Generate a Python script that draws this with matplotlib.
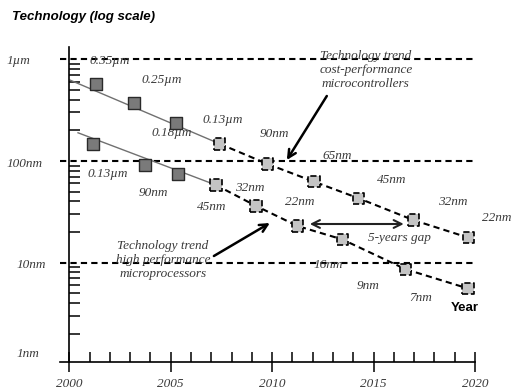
import matplotlib
matplotlib.use("Agg")
import matplotlib.pyplot as plt
from matplotlib.ticker import LogLocator, NullFormatter, MultipleLocator, NullLocator
import numpy as np

# ---------------- data (year, feature size in nm) ----------------
upper_years_solid = [2001.30, 2003.20, 2005.24]
upper_nm_solid = [566, 368, 234]
upper_years_dashed = [2007.42, 2009.77, 2012.07, 2014.25, 2016.96, 2019.67]
upper_nm_dashed = [147, 93.3, 62.4, 43.0, 26.2, 17.6]

lower_years_solid = [2001.18, 2003.73, 2005.37]
lower_nm_solid = [147, 91.2, 74.3]
lower_years_dashed = [2007.23, 2009.20, 2011.25, 2013.46, 2016.59, 2019.66]
lower_nm_dashed = [57.9, 36.1, 22.9, 16.9, 8.59, 5.56]

# fitted trend lines (solid part)
upper_trend_years = [2000.03, 2007.42]
upper_trend_nm = [624, 147]
lower_trend_years = [2000.43, 2007.23]
lower_trend_nm = [189, 57.9]

upper_labels = ["0.35µm", "0.25µm", "0.18µm", "0.13µm", "90nm", "65nm", "45nm", "32nm", "22nm"]
lower_labels = ["0.13µm", "90nm", "45nm", "32nm", "22nm", "16nm", "9nm", "7nm"]
ref_levels_nm = [1000, 100, 10]
y_labels = ["1µm", "100nm", "10nm", "1nm"]
x_ticks = [2000, 2005, 2010, 2015, 2020]

# ---------------- layout (pixel positions in the 512x389 image) ----------------
W, H = 512, 389
upper_label_px = [(110, 61), (162, 80), (172, 133), (223, 120), (275, 134),
                  (337, 156), (392, 180), (453, 202), (497, 218)]
lower_label_px = [(108, 174), (153, 193), (212, 207), (250, 188), (300, 202),
                  (328, 265), (368, 286), (421, 298)]
y_label_px = [(7, 61), (7, 164), (17, 265), (17, 354)]


def px(x, y):
    # image pixel -> data coords
    return 2000 + (x - 69.3) / 20.3, 10 ** (3 - (y - 59.2) / 101.7)


serif = "Liberation Serif"
sans = "Liberation Sans"
txt_col = "#3a3a3a"

fig = plt.figure(figsize=(W / 100, H / 100), dpi=100)
ax = fig.add_axes([60 / W, (H - 361.7) / H, (475 - 60) / W, (361.7 - 47) / H])
ax.set_yscale("log")
ax.set_xlim(2000 - 9.3 / 20.3, 2020)
ax.set_ylim(10 ** (3 - (361.7 - 59.2) / 101.7), 10 ** (3 + (59.2 - 47) / 101.7))
ax.set_facecolor("none")

for s in ["top", "right"]:
    ax.spines[s].set_visible(False)
ax.spines["left"].set_position(("data", 2000))
ax.spines["left"].set_linewidth(1.2)
ax.spines["bottom"].set_linewidth(1.2)

# y ticks: only log minor ticks pointing inwards
ax.yaxis.set_major_locator(NullLocator())
ax.yaxis.set_minor_locator(LogLocator(base=10, subs=np.arange(2, 10)))
ax.yaxis.set_minor_formatter(NullFormatter())
ax.tick_params(axis="y", which="minor", direction="in", length=8, width=1.1)

# x ticks
ax.set_xticks(x_ticks)
ax.set_xticklabels([str(t) for t in x_ticks], fontfamily=serif, style="italic",
                   fontsize=9.5, color=txt_col)
ax.xaxis.set_minor_locator(MultipleLocator(1))
ax.tick_params(axis="x", which="major", direction="inout", length=15, width=1.1, pad=4)
ax.tick_params(axis="x", which="minor", direction="in", length=7.5, width=1.1)

# reference lines
for lv in ref_levels_nm:
    ax.axhline(lv, color="black", ls=(0, (3, 2)), lw=1.5, zorder=1)

# trend lines
ax.plot(upper_trend_years, upper_trend_nm, color="#707070", lw=1.0, zorder=2)
ax.plot(lower_trend_years, lower_trend_nm, color="#707070", lw=1.0, zorder=2)
ax.plot(upper_years_dashed, upper_nm_dashed, color="black", ls=(0, (3, 2)), lw=1.5, zorder=2)
ax.plot(lower_years_dashed, lower_nm_dashed, color="black", ls=(0, (3, 2)), lw=1.5, zorder=2)

# markers
for xs, ys in [(upper_years_solid, upper_nm_solid), (lower_years_solid, lower_nm_solid)]:
    ax.scatter(xs, ys, marker="s", s=66, facecolor="#7a7a7a", edgecolor="#2a2a2a",
               linewidths=1.0, zorder=4, clip_on=False)
for xs, ys in [(upper_years_dashed, upper_nm_dashed), (lower_years_dashed, lower_nm_dashed)]:
    ax.scatter(xs, ys, marker="s", s=66, facecolor="#c4c4c4", edgecolor="black",
               linewidths=1.2, linestyles="--", zorder=4, clip_on=False)

# point labels
for lab, (x, y) in zip(upper_labels + lower_labels, upper_label_px + lower_label_px):
    ax.text(*px(x, y), lab, ha="center", va="center", fontfamily=serif, style="italic",
            fontsize=9.5, color=txt_col, zorder=3, clip_on=False)

# y labels
for lab, (x, y) in zip(y_labels, y_label_px):
    fig.text(x / W, 1 - y / H, lab, ha="left", va="center", fontfamily=serif,
             style="italic", fontsize=9.5, color=txt_col)

# callouts
ax.text(*px(366, 70), "Technology trend\ncost-performance\nmicrocontrollers", ha="center",
        va="center", fontfamily=serif, style="italic", fontsize=9.5, color=txt_col,
        linespacing=1.2, zorder=3)
ax.annotate("", xy=px(287, 160), xytext=px(327, 96),
            arrowprops=dict(arrowstyle="->", lw=1.8, color="black", shrinkA=0, shrinkB=0,
                            mutation_scale=14))

ax.text(*px(163, 260), "Technology trend\nhigh performance\nmicroprocessors", ha="center",
        va="center", fontfamily=serif, style="italic", fontsize=9.5, color=txt_col,
        linespacing=1.2, zorder=3)
ax.annotate("", xy=px(270, 223), xytext=px(214, 256),
            arrowprops=dict(arrowstyle="->", lw=1.8, color="black", shrinkA=0, shrinkB=0,
                            mutation_scale=14))

ax.annotate("", xy=px(404, 224), xytext=px(310, 224),
            arrowprops=dict(arrowstyle="<->", lw=1.5, color="#222222", shrinkA=0, shrinkB=0,
                            mutation_scale=14))
ax.text(*px(400, 238), "5-years gap", ha="center", va="center", fontfamily=serif,
        style="italic", fontsize=9.5, color=txt_col)

ax.text(*px(465, 308), "Year", ha="center", va="center", fontfamily=sans,
        fontweight="bold", fontsize=9.5, color="black")

fig.text(12 / W, 1 - 17 / H, "Technology (log scale)", ha="left", va="center",
         fontfamily=sans, fontweight="bold", style="italic", fontsize=9.5)

fig.savefig("out.png", dpi=100)
